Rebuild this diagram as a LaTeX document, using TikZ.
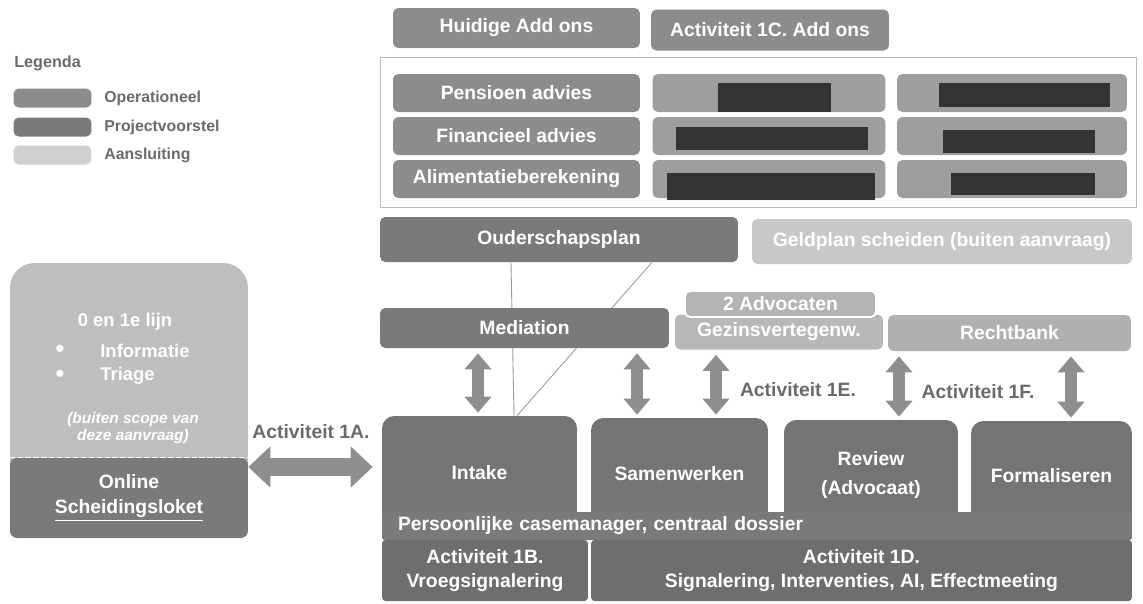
\documentclass[tikz,border=0pt]{standalone}
\usepackage{fontspec}
\setmainfont{Liberation Sans}
\usepackage{tikz}
\usetikzlibrary{arrows.meta}
\usepackage{xcolor}
\definecolor{opgray}{HTML}{8C8C8C}
\definecolor{prgray}{HTML}{7A7A7A}
\definecolor{aagray}{HTML}{C8C8C8}
\definecolor{celgray}{HTML}{9E9E9E}
\definecolor{tabgray}{HTML}{747474}
\definecolor{pijlgray}{HTML}{8E8E8E}
\definecolor{tekstgray}{HTML}{6A6A6A}

\begin{document}
\begin{tikzpicture}[x=0.02cm, y=-0.02cm]
  \tikzset{blok/.style={rectangle, rounded corners=3pt, text=white, inner sep=0pt,
                        align=center, font=\bfseries\fontsize{11}{14}\selectfont}}
  \tikzset{oper/.style={blok, fill=opgray}}
  \tikzset{proj/.style={blok, fill=prgray}}
  \tikzset{aans/.style={blok, fill=aagray}}
  \tikzset{cel/.style={blok, fill=celgray, minimum height=0.76cm}}
  \tikzset{tab/.style={blok, fill=tabgray, rounded corners=7pt}}
  \tikzset{pijl/.style={draw=pijlgray, line width=0.24cm, shorten <=0.1cm, shorten >=0.06cm,
                        {Triangle[width=0.52cm,length=0.32cm]}-{Triangle[width=0.52cm,length=0.32cm]}}}
  \tikzset{breed/.style={draw=pijlgray, line width=0.36cm, shorten >=0.18cm,
                         {Triangle[width=0.8cm,length=0.44cm]}-{Triangle[width=0.8cm,length=0.44cm]}}}
  \tikzset{lijn/.style={draw=gray!80, line width=0.5pt}}
  \tikzset{act/.style={font=\bfseries\fontsize{11}{14}\selectfont, text=tekstgray}}
  \tikzset{legtekst/.style={font=\bfseries\fontsize{9}{10}\selectfont, text=tekstgray, anchor=west, inner sep=0pt}}
  \tikzset{lijntekst/.style={blok, font=\bfseries\fontsize{10.5}{12}\selectfont}}

  \useasboundingbox (0,0) rectangle (1143,603);

  % Legend
  \node[legtekst, font=\bfseries\fontsize{9.2}{10}\selectfont] (legenda) at (14,63) {Legenda};
  \foreach \kleur/\tekst/\y in {opgray/Operationeel/98, prgray/Projectvoorstel/127, aagray!85/Aansluiting/155}{
    \node[blok, fill=\kleur, minimum width=1.56cm, minimum height=0.38cm] (sw-\tekst) at (52.5,\y) {};
    \node[legtekst] (leg-\tekst) at (104,\y) {\tekst};
  }

  % Add ons
  \node[oper, minimum width=4.94cm, minimum height=0.8cm] (huidige) at (516.5,28) {Huidige Add ons};
  \node[oper, minimum width=4.76cm, minimum height=0.82cm] (act1c) at (770,30) {Activiteit 1C. Add ons};
  \draw[gray!55, line width=0.5pt] (380,57) rectangle (1136,207);
  \node[oper, minimum width=4.94cm, minimum height=0.76cm] (pensioen) at (516.5,93) {Pensioen advies};
  \node[oper, minimum width=4.94cm, minimum height=0.76cm] (financieel) at (516.5,136) {Financieel advies};
  \node[oper, minimum width=4.94cm, minimum height=0.76cm] (alimentatie) at (516.5,179) {Alimentatieberekening};
  \foreach \r/\y in {1/93, 2/136, 3/179}{
    \node[cel, minimum width=4.66cm] (cel\r a) at (769,\y) {};
    \node[cel, minimum width=4.6cm] (cel\r b) at (1012,\y) {};
  }
  % redacted parts
  \foreach \xa/\ya/\xb/\yb in {718/83/831/112, 939/83/1110/107, 676/127/868/150,
                               943/130/1095/153, 667/173/875/200, 951/173/1095/195}{
    \fill[black!80] (\xa,\ya) rectangle (\xb,\yb);
  }

  % Left: 0 en 1e lijn
  \node[blok, fill=aagray!95!black, rounded corners=14pt, minimum width=4.76cm, minimum height=4.74cm] (lijnbox) at (129,381.5) {};
  \node[blok, fill=prgray, rounded corners=4pt, minimum width=4.76cm, minimum height=1.6cm] (online) at (129,498) {Online\\\underline{Scheidingsloket}};
  \draw[white, dash pattern=on 3pt off 1.5pt, line width=0.8pt] (online.north west) -- (online.north east);
  \node[lijntekst] (lijntitel) at (125,322) {0 en 1e lijn};
  \node[lijntekst, font=\fontsize{15}{15}\selectfont] (bol1) at (60,351) {\textbullet};
  \node[lijntekst, anchor=west] (informatie) at (100,351) {Informatie};
  \node[lijntekst, font=\fontsize{15}{15}\selectfont] (bol2) at (60,376) {\textbullet};
  \node[lijntekst, anchor=west] (triage) at (100,376) {Triage};
  \node[blok, font=\bfseries\itshape\fontsize{8.8}{8}\selectfont] (scope) at (133,428) {(buiten scope van\\deze aanvraag)};

  % Process tabs
  \node[tab, minimum width=3.9cm, minimum height=2.28cm] (intake) at (479.5,473) {Intake};
  \node[tab, minimum width=3.54cm, minimum height=2.24cm] (samenwerken) at (679.5,474) {Samenwerken};
  \node[tab, minimum width=3.48cm, minimum height=2.2cm] (review) at (871,475) {Review\\[2pt](Advocaat)};
  \node[tab, minimum width=3.22cm, minimum height=2.18cm] (formaliseren) at (1051.5,475.5) {Formaliseren};
  \node[blok, fill=prgray, rounded corners=1pt, minimum width=15cm, minimum height=0.56cm,
        text width=14.36cm, align=left] (dossier) at (757,526) {Persoonlijke casemanager, centraal dossier};
  \node[blok, fill=tabgray!95!black, rounded corners=2pt, minimum width=4.12cm, minimum height=1.22cm] (act1b) at (485,570.5) {Activiteit 1B.\\Vroegsignalering};
  \node[blok, fill=tabgray!95!black, rounded corners=2pt, minimum width=10.82cm, minimum height=1.22cm] (act1d) at (861.5,570.5) {Activiteit 1D.\\Signalering, Interventies, AI, Effectmeeting};

  % Middle layer
  \node[proj, minimum width=7.16cm, minimum height=0.9cm] (ouders) at (559,239.5) {Ouderschapsplan};
  \node[aans, minimum width=7.6cm, minimum height=0.9cm] (geldplan) at (942,241.5) {Geldplan scheiden (buiten aanvraag)};
  \draw[lijn] (511,0 |- ouders.south) -- (514,0 |- intake.north);
  \draw[lijn] (652,0 |- ouders.south) -- (517,0 |- intake.north);
  \node[proj, minimum width=5.78cm, minimum height=0.8cm] (mediation) at (524.5,328) {Mediation};
  \node[aans, fill=aagray!92!black, minimum width=4.16cm, minimum height=0.7cm] (gezins) at (779,332) {Gezinsvertegenw.};
  \node[aans, fill=aagray!90!black, draw=white, line width=1pt, minimum width=3.82cm, minimum height=0.52cm] (advocaten) at (780.5,304) {2 Advocaten};
  \node[aans, fill=aagray!88!black, minimum width=4.86cm, minimum height=0.72cm] (rechtbank) at (1009.5,333) {Rechtbank};

  % Arrows
  \foreach \x/\van/\naar in {478/mediation/intake, 637/mediation/samenwerken, 716/gezins/samenwerken,
                             899/rechtbank/review, 1071/rechtbank/formaliseren}{
    \draw[pijl] (\x,0 |- \van.south) -- (\x,0 |- \naar.north);
  }
  \draw[breed] (online.east |- 0,467) -- (intake.west |- 0,467);

  % Activity labels
  \node[act] (act1a) at (311,432) {Activiteit 1A.};
  \node[act] (act1e) at (798,390) {Activiteit 1E.};
  \node[act] (act1f) at (978,392) {Activiteit 1F.};
\end{tikzpicture}
\end{document}
